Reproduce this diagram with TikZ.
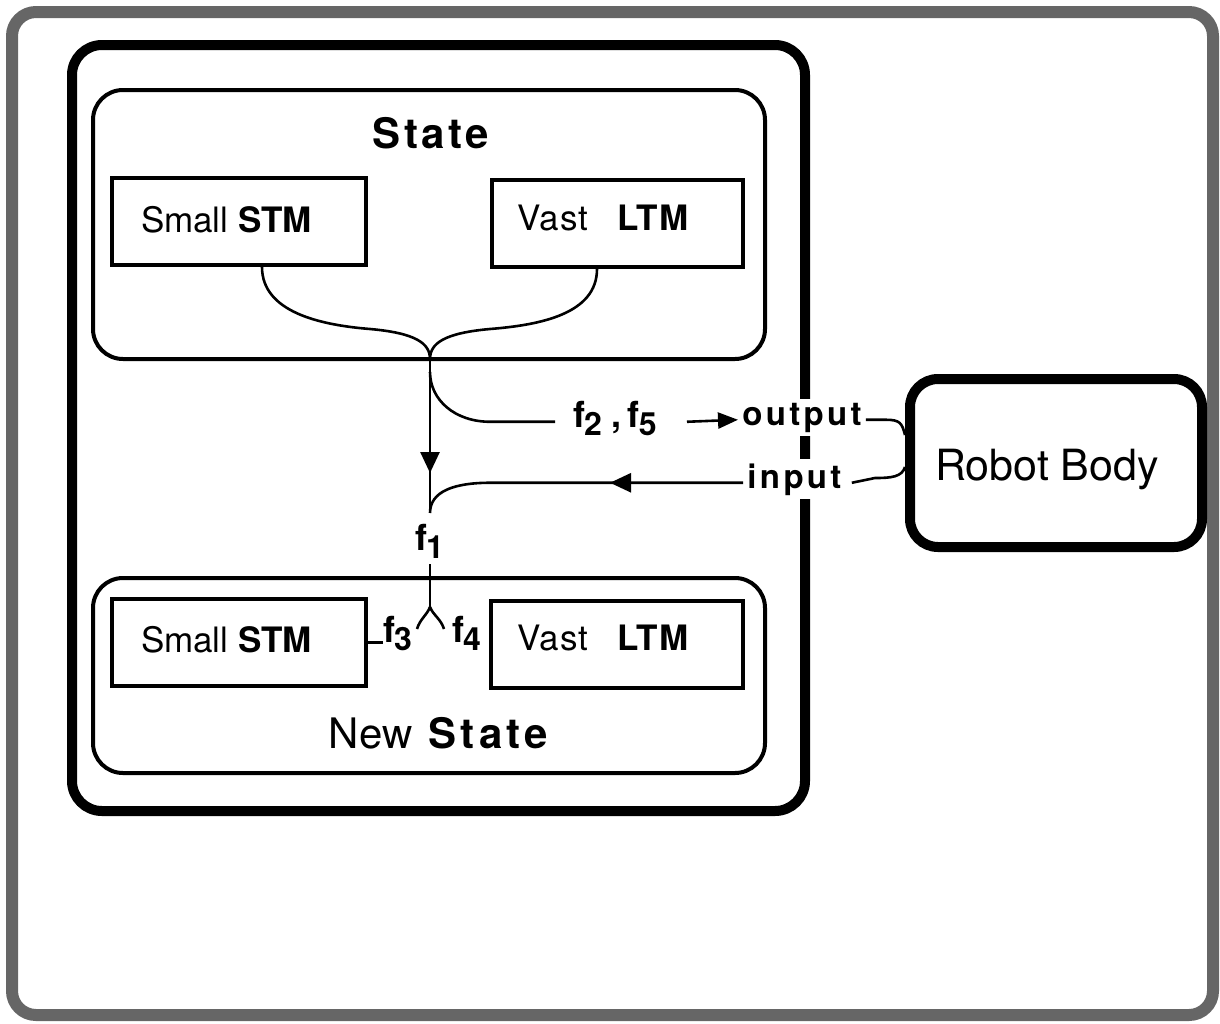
\documentclass[tikz,border=0pt]{standalone}
\usepackage{fontspec}
\setmainfont{TeX Gyre Heros}
\usetikzlibrary{arrows.meta,calc,decorations.markings}

% function label: bold f with a lowered index
\newcommand\fidx[1]{{\bfseries\fontsize{18}{20}\selectfont f\kern-0.6pt\raisebox{-4pt}{\fontsize{16}{18}\selectfont #1}}}

\tikzset{
  outerframe/.style={draw=black!60, line width=6pt, rounded corners=12pt},
  agentbox/.style={draw, line width=5pt, rounded corners=15pt, inner sep=0pt},
  statebox/.style={draw, line width=2pt, rounded corners=15pt, inner sep=0pt},
  membox/.style={draw, line width=2pt, inner sep=0pt},
  bodybox/.style={draw, line width=5pt, rounded corners=14pt, inner sep=0pt},
  wire/.style={line width=1.3pt},
  txt/.style={inner sep=0pt},
  title/.style={txt, font=\fontsize{21}{25}\selectfont},
  memtext/.style={txt, font=\fontsize{17.5}{21}\selectfont},
  port/.style={txt, inner xsep=2pt, inner ysep=2pt, fill=white,
    font=\fontsize{16.5}{19}\selectfont\bfseries\addfontfeatures{LetterSpace=10}},
  flabel/.style={txt, font=\fontsize{18}{20}\selectfont\bfseries},
  headtip/.style={-{Triangle[length=10pt,width=8pt]}},
  midtip/.style={postaction={decorate}, decoration={markings,
    mark=at position #1 with {\arrow{Triangle[length=10.5pt,width=9.5pt]}}}},
}

\begin{document}
\begin{tikzpicture}[x=0.5pt,y=-0.5pt]
\useasboundingbox (0,0) rectangle (1220,1023);
\draw[outerframe] (12,12) rectangle (1213,1015);

% boxes
\node[agentbox, minimum width=366.5pt, minimum height=383pt] (agent) at (438.5,428) {};
\node[statebox, minimum width=336pt, minimum height=134.5pt] (state) at (429,224.5) {};
\node[membox, minimum width=127pt, minimum height=43.5pt] (stm1) at (239,221.5) {};
\node[membox, minimum width=125.5pt, minimum height=43.5pt] (ltm1) at (617.5,223.5) {};
\node[statebox, minimum width=336pt, minimum height=97.5pt] (newstate) at (429,675.5) {};
\node[membox, minimum width=127pt, minimum height=43.5pt] (stm2) at (239,642.5) {};
\node[membox, minimum width=126pt, minimum height=43.5pt] (ltm2) at (617,644.5) {};
\node[bodybox, minimum width=146pt, minimum height=84pt] (robot) at (1056,463) {};

% box texts
\node[title, anchor=base] (statetitle) at (431,148) {\bfseries\addfontfeatures{LetterSpace=8}State};
\node[memtext, anchor=base] (stm1text) at (226.5,232) {Small \textbf{STM}};
\node[memtext, anchor=base] (ltm1text) at (603.5,230) {\addfontfeatures{LetterSpace=3}Vast\hspace{0.8em}\textbf{LTM}};
\node[memtext, anchor=base] (stm2text) at (226.5,652) {Small \textbf{STM}};
\node[memtext, anchor=base] (ltm2text) at (603.5,650) {\addfontfeatures{LetterSpace=3}Vast\hspace{0.8em}\textbf{LTM}};
\node[title, anchor=base] (newtitle) at (440.5,748) {New\hspace{0.38em}\textbf{\addfontfeatures{LetterSpace=10}State}};
\node[txt, anchor=base, font=\fontsize{21.5}{25}\selectfont] (robottext) at (1047,480) {Robot Body};

% connector labels
\node[flabel, anchor=base west] (f25) at (573,427) {\fidx{2}~,\,\fidx{5}};
\node[port, anchor=base west] (out) at (738,425) {output};
\node[port, anchor=base west] (in) at (743,488) {input};
\node[flabel, anchor=base west] (f1) at (415,550) {\fidx{1}};
\node[flabel, anchor=base west] (f3) at (383,642) {\fidx{3}};
\node[flabel, anchor=base west] (f4) at (452,642) {\fidx{4}};

% junction points
\coordinate (j) at (430,359);
\coordinate (m) at (430,513);
\coordinate (b1) at (430,372);
\coordinate (fk) at (430,607);

% memories merge into the state transition
\draw[wire] ($(stm1.south)+(23,0)$) .. controls +(0,45) and (320,325) .. (370,329)
  .. controls (415,333) and (430,343) .. (j);
\draw[wire] ($(ltm1.south)+(-20.5,0)$) .. controls +(0,45) and (540,325) .. (490,329)
  .. controls (445,333) and (430,343) .. (j);
\draw[wire, midtip=57pt] (j) -- (m);

% output branch
\draw[wire] ([xshift=-9pt]f25.mid west) -- ++(-65,0) .. controls +(-35,0) and +(0,28) .. (b1);
\draw[wire, headtip] ([xshift=15pt]f25.mid east) -- (out.mid west);
\draw[wire] (out.mid east) -- ++(20,0) .. controls +(14,0) and +(-3,-12) .. ($(robot.west)+(0,-28)$);

% input branch
\draw[wire] ($(robot.west)+(0,4)$) .. controls +(-3,10) and +(16,0) .. ++(-30,11)
  -- ([xshift=3pt]in.mid east);
\draw[wire, midtip=66.5pt] (in.mid west) -- ++(-253,0) .. controls +(-35,0) and +(0,-22) .. (m);

% new state split
\draw[wire] ($(fk |- f1.south)+(0,6)$) -- (fk);
\draw[wire] (fk) .. controls +(-3,8) and +(3,-10) .. ++(-13,22);
\draw[wire] (fk) .. controls +(3,8) and +(-3,-10) .. ++(14,22);
\draw[wire] (stm2.east) -- (f3.west |- stm2.east);
\draw[wire] ($(f4.east |- ltm2.west)+(9,0)$) -- (ltm2.west);
\end{tikzpicture}
\end{document}
